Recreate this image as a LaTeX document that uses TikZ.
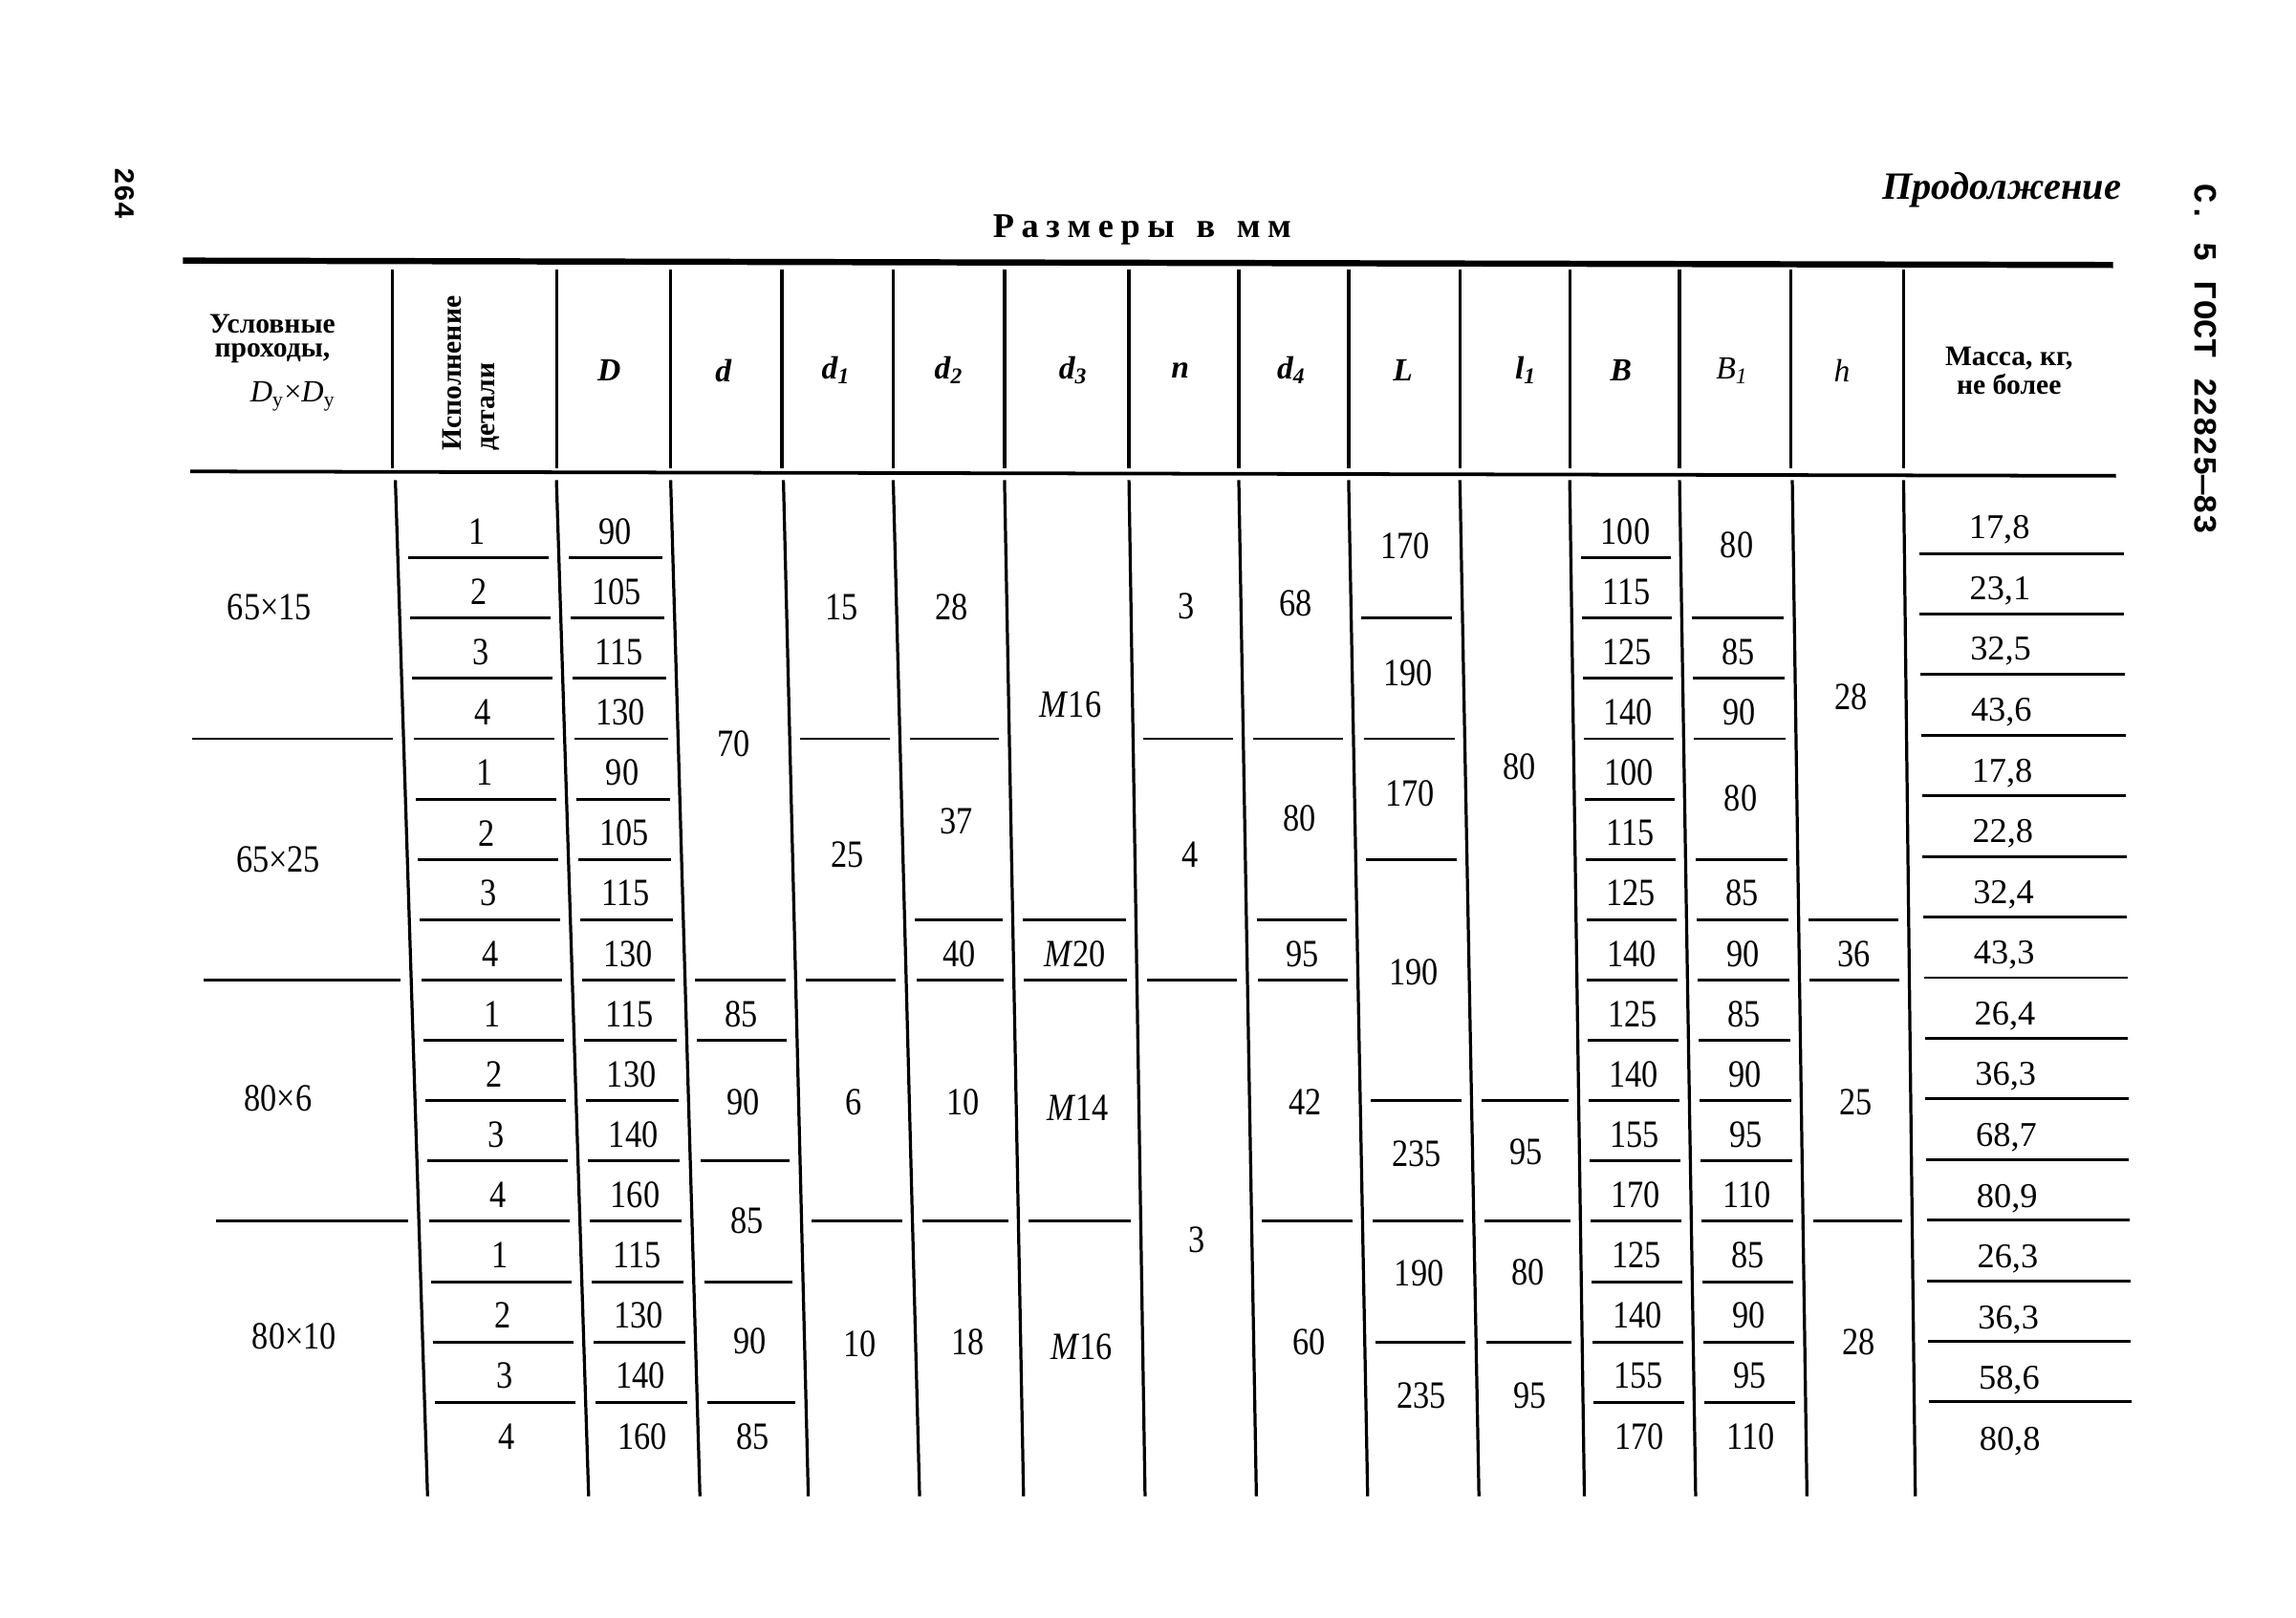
\documentclass[tikz,border=0pt]{standalone}
\usepackage{fontspec}
\setmainfont{Liberation Serif}
\newfontfamily\numfont{Liberation Serif}[FakeStretch=0.85]
\newfontfamily\monofont{Liberation Mono}
\newcounter{cellno}
\def\tVT{{115,270,380,458,535,610,686,771,846,921,997,1072,1147,1224,1300,1430}}
\def\tVB{{150,292,402,478,552,628,699,782,858,934,1010,1082,1158,1234,1308,1438}}
% x of left/right border of column #1 at height #2
\newcommand\tcolx[2]{%
  \pgfmathtruncatemacro\cn{#1+1}%
  \pgfmathsetmacro\fr{((#2)-328)/694}%
  \pgfmathsetmacro\xl{\tVT[#1]+(\tVB[#1]-\tVT[#1])*\fr}%
  \pgfmathsetmacro\xr{\tVT[\cn]+(\tVB[\cn]-\tVT[\cn])*\fr}%
  \pgfmathsetmacro\cx{(\xl+\xr)/2}%
}
\newcommand\thl[2]{\tcolx{#1}{#2}\draw[rule] (\xl+7,#2) -- (\xr-7,#2);}
\newcommand\thlr[2]{\pgfmathsetmacro\yy{381+41.2*(#2-1)}\thl{#1}{\yy}}
\newcommand\tcell[4][num]{\tcolx{#2}{#3}\stepcounter{cellno}\node[#1] (cell\arabic{cellno}) at (\cx,#3) {#4};}
\newcommand\tcellr[3]{\pgfmathsetmacro\yr{363+41.2*(#2-1)}\tcell{#1}{\yr}{#3}}
\newcommand\bi[1]{\textbf{\textit{#1}}}
\begin{document}
\begin{tikzpicture}[x=0.02cm,y=-0.02cm,
  rule/.style={line width=1.1pt},
  vrule/.style={line width=1.2pt},
  toprule/.style={line width=2.4pt},
  num/.style={inner sep=0pt,font=\numfont\fontsize{15}{17}\selectfont},
  massnum/.style={inner sep=0pt,font=\fontsize{13.5}{16}\selectfont},
  hdr/.style={inner sep=0pt,font=\bfseries\fontsize{11}{13}\selectfont},
  sym/.style={inner sep=0pt,font=\bfseries\itshape\fontsize{12.5}{14}\selectfont},
  symr/.style={inner sep=0pt,font=\itshape\fontsize{12.5}{14}\selectfont}]
\fill[white] (0,0) rectangle (1568,1105);
\useasboundingbox (0,0) rectangle (1568,1105);

% page furniture
\node[inner sep=0pt,rotate=-90,font=\monofont\bfseries\fontsize{11}{13}\selectfont] (pageno) at (85,132) {264};
\node[inner sep=0pt,rotate=-90,font=\monofont\bfseries\fontsize{12.6}{14}\selectfont] (gost) at (1506,245) {С. 5 ГОСТ 22825—83};
\node[inner sep=0pt,font=\bfseries\itshape\fontsize{15}{17}\selectfont] (cont) at (1367,130) {Продолжение};
\node[inner sep=0pt,font=\bfseries\fontsize{13.5}{16}\selectfont] (title) at (780,157)
  {\hbox to 116pt{Р\hfill а\hfill з\hfill м\hfill е\hfill р\hfill ы\hfill\hfill\hfill в\hfill\hfill\hfill м\hfill м}};

% header rules
\coordinate (tl) at (125,178); \coordinate (tr) at (1443,181);
\coordinate (hl) at (130,322); \coordinate (hr) at (1445,325);
\draw[toprule] (tl) -- (tr);
\draw[line width=1.4pt] (hl) -- (hr);
\foreach \x in {268,380,458,534,610,686,771,846,921,997,1072,1147,1223,1300}
  \draw[vrule] (\x,184) -- (\x,320);

% header labels
\node[hdr] (h0a) at (186,221) {Условные};
\node[hdr] (h0b) at (186,241) {проходы,};
\node[inner sep=0pt,font=\fontsize{12}{14}\selectfont] (h0c) at (200,271) {\textit{D}\textsubscript{у}×\textit{D}\textsubscript{у}};
\node[hdr,rotate=90] (h1) at (322,255) {\begin{tabular}{@{}l@{}}Исполнение\\детали\end{tabular}};
\node[sym] (hD) at (416,253) {D};
\node[sym] (hd) at (494,253) {d};
\node[sym] (hd1) at (571,253) {d\textsubscript{1}};
\node[sym] (hd2) at (648,253) {d\textsubscript{2}};
\node[sym] (hd3) at (733,253) {d\textsubscript{3}};
\node[sym] (hn) at (806,253) {n};
\node[sym] (hd4) at (882,253) {d\textsubscript{4}};
\node[sym] (hL) at (958,253) {L};
\node[sym] (hl1) at (1042,253) {l\textsubscript{1}};
\node[sym] (hB) at (1107,253) {B};
\node[symr] (hB1) at (1183,253) {B\textsubscript{1}};
\node[symr] (hh) at (1258,253) {h};
\node[hdr] (hm) at (1372,255) {\begin{tabular}{@{}c@{}}Масса, кг,\\[-2pt]не более\end{tabular}};

% body verticals
\foreach \i in {1,...,14}{
  \pgfmathsetmacro\xt{\tVT[\i]}\pgfmathsetmacro\xb{\tVB[\i]}
  \draw[vrule] (\xt,328) -- (\xb,1022);
}

% column 0
\node[num] (g1) at (184,415) {65×15};
\node[num] (g2) at (190,587) {65×25};
\node[num] (g3) at (190,750) {80×6};
\node[num] (g4) at (201,913) {80×10};
\foreach \k in {4,8,12} {\thlr{0}{\k}}

% per-row columns
\foreach \v [count=\k] in {1,2,3,4,1,2,3,4,1,2,3,4,1,2,3,4} {\tcellr{1}{\k}{\v}}
\foreach \v [count=\k] in {90,105,115,130,90,105,115,130,115,130,140,160,115,130,140,160} {\tcellr{2}{\k}{\v}}
\foreach \v [count=\k] in {100,115,125,140,100,115,125,140,125,140,155,170,125,140,155,170} {\tcellr{11}{\k}{\v}}
\foreach \k in {1,...,15} {\thlr{1}{\k}\thlr{2}{\k}\thlr{11}{\k}}

% d
\tcell{3}{508}{70}\tcellr{3}{9}{85}\tcell{3}{753}{90}\tcell{3}{834}{85}\tcell{3}{916}{90}\tcellr{3}{16}{85}
\foreach \k in {8,9,11,13,15} {\thlr{3}{\k}}
% d1
\tcell{4}{415}{15}\tcell{4}{584}{25}\tcell{4}{753}{6}\tcell{4}{918}{10}
\foreach \k in {4,8,12} {\thlr{4}{\k}}
% d2
\tcell{5}{415}{28}\tcell{5}{561}{37}\tcellr{5}{8}{40}\tcell{5}{753}{10}\tcell{5}{917}{18}
\foreach \k in {4,7,8,12} {\thlr{5}{\k}}
% d3
\tcell{6}{481}{\textit{M}16}\tcellr{6}{8}{\textit{M}20}\tcell{6}{757}{\textit{M}14}\tcell{6}{920}{\textit{M}16}
\foreach \k in {7,8,12} {\thlr{6}{\k}}
% n
\tcell{7}{414}{3}\tcell{7}{584}{4}\tcell{7}{847}{3}
\foreach \k in {4,8} {\thlr{7}{\k}}
% d4
\tcell{8}{412}{68}\tcell{8}{559}{80}\tcellr{8}{8}{95}\tcell{8}{753}{42}\tcell{8}{917}{60}
\foreach \k in {4,7,8,12} {\thlr{8}{\k}}
% L
\tcell{9}{373}{170}\tcell{9}{460}{190}\tcell{9}{542}{170}\tcell{9}{664}{190}\tcell{9}{788}{235}\tcell{9}{870}{190}\tcell{9}{953}{235}
\foreach \k in {2,4,6,10,12,14} {\thlr{9}{\k}}
% l1
\tcell{10}{524}{80}\tcell{10}{787}{95}\tcell{10}{869}{80}\tcell{10}{953}{95}
\foreach \k in {10,12,14} {\thlr{10}{\k}}
% B1
\tcell{12}{372}{80}\tcellr{12}{3}{85}\tcellr{12}{4}{90}\tcell{12}{545}{80}
\foreach \v [count=\j from 7] in {85,90,85,90,95,110,85,90,95,110} {\tcellr{12}{\j}{\v}}
\foreach \k in {2,3,4,6,7,8,9,10,11,12,13,14,15} {\thlr{12}{\k}}
% h
\tcell{13}{476}{28}\tcellr{13}{8}{36}\tcell{13}{753}{25}\tcell{13}{917}{28}
\foreach \k in {7,8,12} {\thlr{13}{\k}}

% mass
\foreach \v [count=\k] in {{17,8},{23,1},{32,5},{43,6},{17,8},{22,8},{32,4},{43,3},{26,4},{36,3},{68,7},{80,9},{26,3},{36,3},{58,6},{80,8}}{
  \pgfmathsetmacro\ym{362+41.5*(\k-1)}
  \tcell[massnum]{14}{\ym}{\v}
}
\foreach \k in {1,...,15}{
  \pgfmathsetmacro\ym{378+41.4*(\k-1)}
  \pgfmathsetmacro\fm{(\ym-328)/694}
  \pgfmathsetmacro\xa{1300+8*\fm+10}
  \pgfmathsetmacro\xb{1450+6*\fm}
  \draw[rule] (\xa,\ym) -- (\xb,\ym);
}
\end{tikzpicture}
\end{document}
